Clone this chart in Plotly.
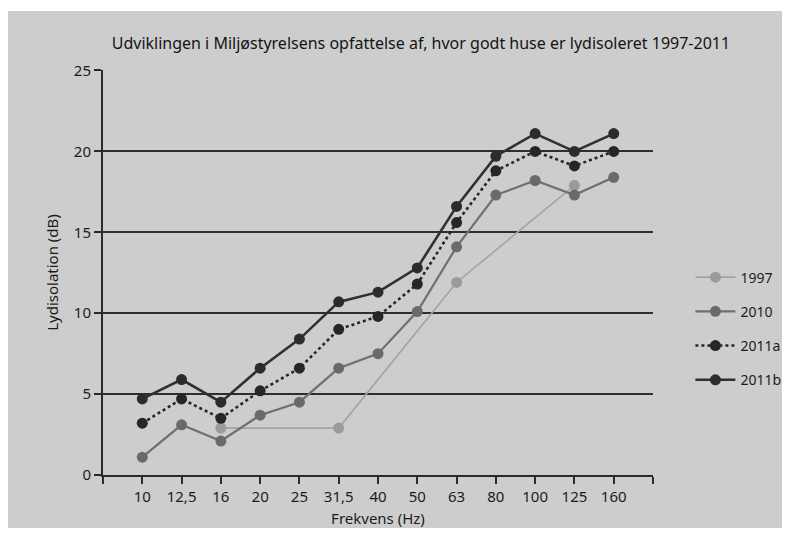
import plotly.graph_objects as go

freqs = ["10", "12,5", "16", "20", "25", "31,5", "40", "50", "63", "80", "100", "125", "160"]
v1997 = [None, None, 2.9, None, None, 2.9, None, None, 11.9, None, None, 17.9, None]
v2010 = [1.1, 3.1, 2.1, 3.7, 4.5, 6.6, 7.5, 10.1, 14.1, 17.3, 18.2, 17.3, 18.4]
v2011a = [3.2, 4.7, 3.5, 5.2, 6.6, 9.0, 9.8, 11.8, 15.6, 18.8, 20.0, 19.1, 20.0]
v2011b = [4.7, 5.9, 4.5, 6.6, 8.4, 10.7, 11.3, 12.8, 16.6, 19.7, 21.1, 20.0, 21.1]
yticks = [0, 5, 10, 15, 20, 25]

xpos = list(range(len(freqs)))
FONT = "Noto Sans"
TXT = "#1c1c1c"

series = [
    ("1997", v1997, "#a3a3a3", "#9b9b9b", 1.6, "solid"),
    ("2010", v2010, "#6f6f6f", "#6a6a6a", 2.2, "solid"),
    ("2011a", v2011a, "#262626", "#262626", 2.6, "dot"),
    ("2011b", v2011b, "#303030", "#2c2c2c", 2.6, "solid"),
]

fig = go.Figure()
for name, vals, lc, mc, lw, dash in series:
    fig.add_trace(go.Scatter(
        x=xpos, y=vals, name=name, mode="lines+markers",
        connectgaps=True, legendgroup=name,
        line=dict(color=lc, width=lw, dash=dash),
        marker=dict(color=mc, size=11),
    ))

fig.add_shape(type="rect", xref="paper", yref="paper",
              x0=-0.2, x1=1.4, y0=-0.3, y1=1.1456,
              fillcolor="#cdcdcd", line=dict(width=0), layer="below")

fig.update_layout(
    width=774, height=520,
    margin=dict(l=95, r=129, t=62, b=53, autoexpand=False),
    paper_bgcolor="white",
    plot_bgcolor="rgba(0,0,0,0)",
    font=dict(family=FONT, color=TXT, size=15),
    title=dict(text="Udviklingen i Miljøstyrelsens opfattelse af, hvor godt huse er lydisoleret 1997-2011",
               x=0.5335, xanchor="center", y=0.931, yanchor="middle",
               font=dict(family=FONT, size=16, color="#141414")),
    showlegend=True,
    legend=dict(x=1.068, xanchor="left", y=0.527, yanchor="top",
                bgcolor="rgba(0,0,0,0)", font=dict(size=14, color=TXT),
                tracegroupgap=13, itemwidth=40),
    xaxis=dict(
        range=[-1, len(freqs)],
        tickvals=list(range(-1, len(freqs) + 1)),
        ticktext=[""] + freqs + [""],
        showgrid=False, zeroline=False, automargin=False,
        showline=True, linecolor="#2a2a2a", linewidth=2,
        ticks="outside", ticklen=7, tickwidth=1.5, tickcolor="#2a2a2a",
        title=dict(text="Frekvens (Hz)", standoff=13, font=dict(size=15)),
        tickfont=dict(size=15),
    ),
    yaxis=dict(
        range=[0, 25.03],
        tickvals=yticks,
        showgrid=True, gridcolor="#2e2e2e", gridwidth=1.5,
        zeroline=False, automargin=False,
        showline=True, linecolor="#2a2a2a", linewidth=2,
        ticks="outside", ticklen=7, tickwidth=1.5, tickcolor="#2a2a2a",
        title=dict(text="Lydisolation (dB)", standoff=12, font=dict(size=15)),
        tickfont=dict(size=15),
    ),
)

fig.write_html("out.html")
